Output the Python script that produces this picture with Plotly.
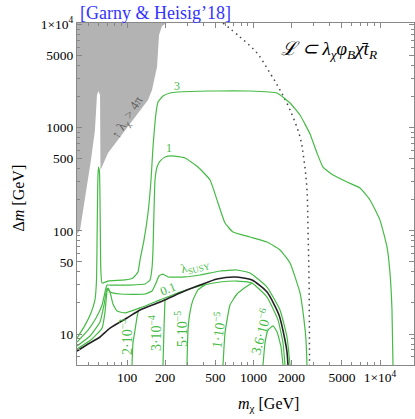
import math
import plotly.graph_objects as go

# ---- data (m_chi [GeV], Delta m [GeV]) ----
c3_x = [40.3, 46.6, 51.9, 55.8, 57.4, 58.1, 58.8, 59.5, 60.6, 61.4, 62.1, 63.5, 70.8, 96.4, 111.5, 122.2, 126.7,
        136.3, 146.6, 154.8, 160.5, 169.6, 175.9, 192.6, 218.8, 253.1, 453.2, 938.3, 1534, 1944, 2332, 2797, 3177,
        3543, 4251, 5484, 6949, 8336, 10000, 11360, 11995, 12440, 12670]
c3_y = [9.15, 12.2, 16.0, 21.4, 33.4, 101.8, 311, 415, 371, 127, 41.7, 31.2, 32.6, 33.4, 34.9, 39.9, 52.1,
        81.5, 148.8, 311, 648.6, 1385, 1771, 2024, 2164, 2213, 2263, 2263, 2164, 1731, 1324, 867, 567,
        415, 347, 297, 260, 199, 127, 69.7, 39.0, 17.1, 5.0]

c1_x = [40.3, 49.2, 56.9, 63.5, 67.0, 69.5, 73.4, 105.6, 138.8, 152.0, 157.6, 160.5, 163.5, 166.5, 172.7, 182.4,
        199.7, 226.9, 287.3, 364.2, 453.2, 524.1, 595.4, 688.7, 938.3, 1279, 1620, 1944, 2332, 2507, 2600, 2648]
c1_y = [8.37, 10.9, 14.3, 19.1, 25.5, 29.8, 29.8, 29.8, 30.5, 33.4, 43.6, 65.2, 159, 311, 415, 474,
        519, 531, 508, 415, 311, 186, 119, 97.3, 87.1, 77.9, 65.2, 48.8, 25.0, 13.7, 8.75, 5.0]

susy_x = [40.3, 51.0, 61.2, 65.8, 69.5, 73.4, 88.1, 138.8, 157.6, 169.6, 179.1, 192.6, 211.0, 287.3, 377.7,
          543.5, 740.6, 938.3, 1279, 1620, 1840, 1944]
susy_y = [7.65, 9.56, 13.1, 19.1, 27.9, 25.5, 24.4, 24.4, 26.1, 31.2, 36.5, 38.1, 35.7, 35.7, 37.3,
          40.8, 41.7, 39.0, 28.5, 17.1, 9.35, 5.0]

p1_x = [40.3, 52.9, 63.5, 67.0, 69.5, 70.8, 73.4, 77.5, 83.4, 96.4, 126.7, 182.4, 262.4, 377.7, 543.5, 740.6,
        972.9, 1279, 1562, 1711, 1774]
p1_y = [7.16, 8.95, 11.4, 16.3, 26.1, 27.9, 25.5, 19.5, 16.7, 16.0, 17.9, 21.4, 25.5, 29.2, 31.9, 32.6,
        31.2, 22.8, 13.7, 8.18, 5.0]

black_x = [40.3, 49.2, 61.2, 73.4, 100, 126.7, 182.4, 262.4, 377.7, 514.5, 714.2, 972.9, 1279, 1591, 1774,
           1840, 1874]
black_y = [6.84, 8.00, 9.35, 11.4, 14.3, 17.1, 20.4, 25.0, 29.8, 34.1, 35.7, 33.4, 25.5, 15.3, 8.75, 6.69, 5.0]

c2e3_x = [109.5, 111.5, 115.7, 120.0, 123.3]
c2e3_y = [5.0, 8.18, 10.9, 14.6, 16.9]
c3e4_x = [192.6, 196.2, 199.7]
c3e4_y = [5.0, 11.7, 21.5]
c5e5_x = [298.0, 303.5, 314.8, 332.5, 364.2, 413.7]
c5e5_y = [5.0, 10.9, 16.3, 21.4, 26.7, 29.8]
c1e5_x = [574.1, 595.4, 652.0, 740.6, 826.1, 972.9]
c1e5_y = [5.0, 10.2, 19.1, 24.4, 27.3, 31.2]
c36e6_x = [1189, 1233, 1302, 1426, 1534, 1650, 1711]
c36e6_y = [5.0, 8.18, 10.9, 12.0, 10.5, 7.48, 5.0]

dot_x = [574, 782, 1066, 1350, 1620, 1944, 2332, 2507, 2648, 2697, 2747, 2772]
dot_y = [10320, 7551, 5284, 3381, 2313, 1481, 811, 485, 248, 101.8, 33.4, 5.0]

gray_x = [40, 211, 189.1, 179.1, 172.7, 157.6, 146.6, 131.4, 96.4, 70.8, 62.3, 61.7, 61.2, 59.5, 57.9, 56.9,
          55.8, 51.9, 47.4, 42.5, 40]
gray_y = [10500, 10500, 9650, 7889, 3864, 2313, 1851, 1549, 948, 567, 397, 397, 2070, 2263, 2070, 1324,
          948, 485, 248, 101.8, 92]

# contour labels: (text, x, y, angle, size)
labels = [
    ("3", 248.5, 2530, 0, 12),
    ("1", 214.8, 634, 0, 12),
    ("λ<sub>SUSY</sub>", 344.8, 44.5, -14, 12.5),
    ("0.1", 211, 27.5, -22, 12.5),
    ("2·10<sup>−3</sup>", 98.2, 9.35, -90, 14),
    ("3·10<sup>−4</sup>", 166.5, 10.2, -90, 14),
    ("5·10<sup>−5</sup>", 267.3, 11.2, -90, 14),
    ("1·10<sup>−5</sup>", 524.1, 10.9, -82, 14),
    ("3.6·10<sup>−6</sup>", 1126, 10.5, -75, 14),
]

x_major = [100, 200, 500, 1000, 2000, 5000, 10000]
x_major_text = ["100", "200", "500", "1000", "2000", "5000", "1×10<sup>4</sup>"]
x_minor = [50, 60, 70, 80, 90, 300, 400, 600, 700, 800, 900, 3000, 4000, 6000, 7000, 8000, 9000]
y_major = [10, 50, 100, 500, 1000, 5000, 10000]
y_major_text = ["10", "50", "100", "500", "1000", "5000", "1×10<sup>4</sup>"]
y_minor = [6, 7, 8, 9, 20, 30, 40, 60, 70, 80, 90, 200, 300, 400, 600, 700, 800, 900,
           2000, 3000, 4000, 6000, 7000, 8000, 9000]

GREEN = "#45bb45"
SERIF = "Liberation Serif"

fig = go.Figure()
fig.add_trace(go.Scatter(x=gray_x, y=gray_y, mode="lines", fill="toself", fillcolor="#b3b3b3",
                         line=dict(width=0, color="#b3b3b3"), hoverinfo="skip"))
fig.add_trace(go.Scatter(x=dot_x, y=dot_y, mode="lines",
                         line=dict(color="#444444", width=1.5, dash="1.5px,4px", shape="spline")))
for xs, ys in [(c3_x, c3_y), (c1_x, c1_y), (susy_x, susy_y), (p1_x, p1_y),
               (c2e3_x, c2e3_y), (c3e4_x, c3e4_y), (c5e5_x, c5e5_y), (c1e5_x, c1e5_y), (c36e6_x, c36e6_y)]:
    fig.add_trace(go.Scatter(x=xs, y=ys, mode="lines", line=dict(color=GREEN, width=1.2, shape="spline",
                                                                 smoothing=0.4)))
fig.add_trace(go.Scatter(x=black_x, y=black_y, mode="lines",
                         line=dict(color="#222222", width=1.6, shape="spline", smoothing=0.6)))

for t, x, y, a, s in labels:
    fig.add_annotation(x=math.log10(x), y=math.log10(y), xref="x", yref="y", text=t, textangle=a,
                       showarrow=False, font=dict(family=SERIF, size=s, color=GREEN))

fig.add_annotation(x=math.log10(100), y=math.log10(1238), xref="x", yref="y", text="↑ λ<sub>χ</sub> > 4π",
                   textangle=-58, showarrow=False, font=dict(family=SERIF, size=13, color="#606060"))

fig.add_annotation(x=0.003, y=1.029, xref="paper", yref="paper", xanchor="left", yanchor="middle",
                   text="[Garny &amp; Heisig’18]", showarrow=False,
                   font=dict(family=SERIF, size=18, color="#3333ff"))
fig.add_annotation(x=0.6, y=0.921, xref="paper", yref="paper", xanchor="left", yanchor="middle",
                   text="<i>ℒ ⊂ λ<sub>χ</sub>φ<sub>B</sub>χ̄t<sub>R</sub></i>", showarrow=False,
                   font=dict(family=SERIF, size=19, color="black"))
fig.add_annotation(x=-0.205, y=0.488, xref="paper", yref="paper", text="Δ<i>m</i> [GeV]", textangle=-90,
                   showarrow=False, font=dict(family=SERIF, size=16, color="black"))
fig.add_annotation(x=0.567, y=-0.15, xref="paper", yref="paper", text="<i>m</i><sub>χ</sub> [GeV]",
                   showarrow=False, font=dict(family=SERIF, size=16, color="black"))

axis_common = dict(type="log", showgrid=False, zeroline=False, showline=True, linecolor="#888888", linewidth=1,
                   mirror="ticks", ticks="inside", ticklen=5, tickcolor="#888888",
                   tickfont=dict(family=SERIF, size=13.5, color="black"))
fig.update_xaxes(range=[1.6047, 4.2688], tickvals=x_major, ticktext=x_major_text,
                 minor=dict(tickvals=x_minor, ticks="inside", ticklen=3, tickcolor="#888888"), **axis_common)
fig.update_yaxes(range=[0.6996, 4.0136], tickvals=y_major, ticktext=y_major_text,
                 minor=dict(tickvals=y_minor, ticks="inside", ticklen=3, tickcolor="#888888"), **axis_common)

fig.update_layout(width=415, height=419, margin=dict(l=77, r=1, t=23, b=54), paper_bgcolor="white",
                  plot_bgcolor="white", showlegend=False)
fig.write_html("out.html")
